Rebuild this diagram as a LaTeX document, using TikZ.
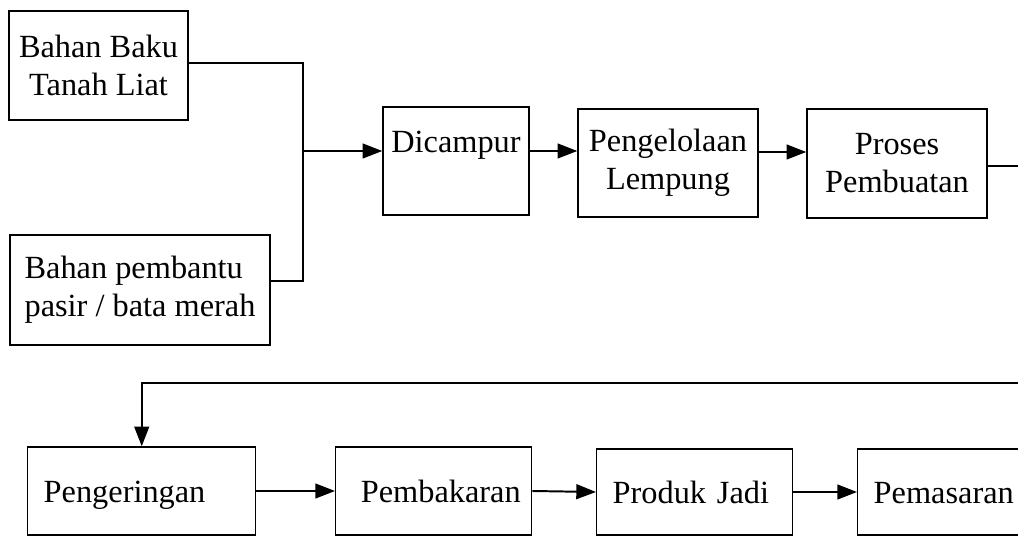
\documentclass[tikz,border=0pt]{standalone}
\usepackage{fontspec}
\setmainfont{Liberation Serif}
\usepackage{tikz}
\usetikzlibrary{arrows.meta}

\begin{document}
\begin{tikzpicture}[x=0.025cm, y=-0.025cm,
  kotak/.style={draw, line width=1pt, inner sep=0pt, font=\fontsize{23}{27}\selectfont},
  garis/.style={line width=1.4pt},
  panah/.style={line width=1.4pt, -{Triangle[length=14pt,width=10.5pt]}}]

\useasboundingbox (0,0) rectangle (1018,536);
\clip (0,0) rectangle (1018,536);

% Bahan
\node[kotak, minimum width=4.475cm, minimum height=2.725cm, align=center] (baku) at (98.5,65.5) {Bahan Baku\\Tanah Liat};
\node[kotak, minimum width=6.5cm, minimum height=2.75cm, align=left] (bantu) at (140,290) {Bahan pembantu\\pasir / bata merah};

% Proses baris atas
\node[kotak, minimum width=3.65cm, minimum height=2.7cm, align=center] (campur) at (456,161) {Dicampur\\\mbox{}};
\node[kotak, minimum width=4.5cm, minimum height=2.7cm, align=center] (lempung) at (668,163) {Pengelolaan\\Lempung};
\node[kotak, minimum width=4.5cm, minimum height=2.725cm, align=center] (buat) at (897,163.5) {Proses\\Pembuatan};

% Proses baris bawah
\node[kotak, anchor=west, minimum height=2.2cm, text height=19pt, text depth=2.5pt, text width=4.9cm, inner xsep=0.4cm, align=left] (kering) at (27,491) {Pengeringan};
\node[kotak, anchor=west, minimum height=2.2cm, text height=19pt, text depth=2.5pt, text width=4.35cm, inner xsep=0.275cm, align=right] (bakar) at (335,491) {Pembakaran};
\node[kotak, anchor=west, minimum height=2.15cm, text height=19pt, text depth=2.5pt, text width=4.1cm, inner xsep=0.4cm, align=left] (produk) at (596,492) {Produk Jadi};
\node[kotak, anchor=west, minimum height=2.15cm, text height=19pt, text depth=2.5pt, text width=4.1cm, inner xsep=0.4cm, align=left] (pasar) at (857,492) {Pemasaran};

% Titik bantu
\coordinate (temu) at (303,151);
\coordinate (belok) at (1040,383);

% Garis penghubung
\draw[garis] (baku.east |- 0,63) -| (temu);
\draw[garis] (bantu.east |- 0,281) -| (temu);
\draw[panah] (temu) -- (temu -| campur.west);
\draw[panah] (campur.east |- 0,151) -- (lempung.west |- 0,151);
\draw[panah] (lempung.east |- 0,152) -- (buat.west |- 0,152);
\draw[panah] (buat.east |- 0,166) -| (belok) -| (kering.north);
\draw[panah] (kering.east) -- (bakar.west);
\draw[panah] (bakar.east) -- (produk.west);
\draw[panah] (produk.east) -- (pasar.west);

\end{tikzpicture}
\end{document}
